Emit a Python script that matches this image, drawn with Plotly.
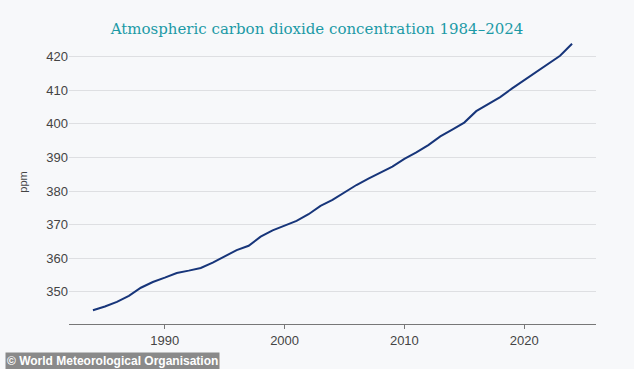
import plotly.graph_objects as go

years = list(range(1984, 2025))
co2_ppm = [344.5, 345.6, 347.0, 348.8, 351.2, 352.9, 354.2, 355.6, 356.3, 357.1,
           358.7, 360.6, 362.4, 363.7, 366.4, 368.3, 369.6, 371.1, 373.1, 375.6,
           377.4, 379.6, 381.8, 383.7, 385.6, 387.3, 389.6, 391.5, 393.7, 396.3,
           398.3, 400.4, 403.8, 406.0, 408.0, 410.6, 413.0, 415.5, 417.9, 420.3,
           423.9]
x_ticks = [1990, 2000, 2010, 2020]
y_ticks = [350, 360, 370, 380, 390, 400, 410, 420]

bg = "#f7f8fa"
fig = go.Figure()
fig.add_trace(go.Scatter(x=years, y=co2_ppm, mode="lines",
                         line=dict(color="#17357a", width=2), hoverinfo="x+y"))

fig.update_layout(
    width=634, height=369,
    paper_bgcolor=bg, plot_bgcolor=bg,
    margin=dict(l=69, r=38, t=40, b=45),
    showlegend=False,
    title=dict(text="Atmospheric carbon dioxide concentration 1984\u20132024",
               x=0.5, xanchor="center", y=0.922, yanchor="middle",
               font=dict(family="DejaVu Serif", size=15, color="#1c9aa6")),
    font=dict(family="Liberation Sans", color="#444444"),
    xaxis=dict(range=[1982, 2026], tickvals=x_ticks, showgrid=False,
               showline=True, linecolor="#777777", linewidth=1,
               ticks="outside", ticklen=4, tickcolor="#777777",
               tickfont=dict(size=13, color="#444444"), zeroline=False),
    yaxis=dict(range=[340.4, 425], tickvals=y_ticks, showgrid=True,
               gridcolor="#dedfe2", gridwidth=1, zeroline=False,
               showline=False, ticks="", ticklen=0,
               tickfont=dict(size=13, color="#444444"),
               title=dict(text="ppm", font=dict(size=11, color="#444444"), standoff=16)),
)

fig.add_annotation(text="<b>\u00a9 World Meteorological Organisation</b>",
                   xref="paper", yref="paper", x=-69/527, y=-45/284,
                   xanchor="left", yanchor="bottom", showarrow=False,
                   font=dict(family="Liberation Sans", size=12, color="#ffffff"),
                   bgcolor="#8a8a8a", borderpad=1, xshift=5, yshift=-1)

fig.write_html("out.html", config={"displayModeBar": False},
               post_script="document.body.style.margin='0';document.body.style.background='#f7f8fa';")
